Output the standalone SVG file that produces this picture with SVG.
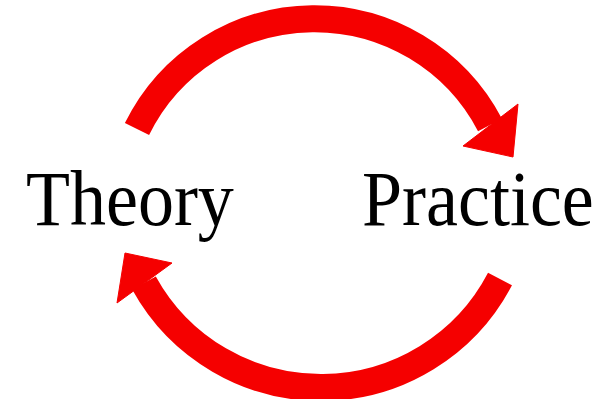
<svg xmlns="http://www.w3.org/2000/svg" width="610" height="399" viewBox="0 0 610 399">
<style>
.arc{fill:none;stroke:#f50000;stroke-width:27;stroke-linecap:butt}
.head{fill:#f50000;stroke:#f50000;stroke-width:1;stroke-linejoin:miter}
.lbl{font-family:"Liberation Serif","Times New Roman",serif;font-size:72px;fill:#000}
</style>
<rect width="610" height="399" fill="#fff"/>
<g id="connectors">
<g id="arrow-theory-practice">
<path class="arc" d="M137,129 A198,198 0 0,1 490,125"/>
<polygon class="head" points="463,146 518,104 513,157"/>
</g>
<g id="arrow-practice-theory">
<path class="arc" d="M500,279 A202,202 0 0,1 144,283"/>
<polygon class="head" points="172,263 117,303 125,253"/>
</g>
</g>
<g id="theory"><text class="lbl" x="26" y="225" transform="translate(0,-18) scale(1,1.08)">Theory</text></g>
<g id="practice"><text class="lbl" x="362" y="225" transform="translate(0,-18) scale(1,1.08)">Practice</text></g>
</svg>
